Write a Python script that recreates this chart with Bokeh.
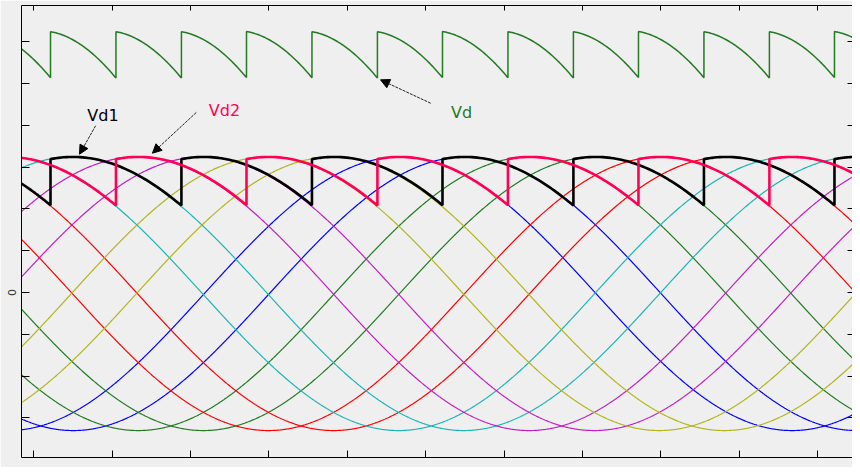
import numpy as np
from bokeh.plotting import figure
from bokeh.models import Range1d, LinearAxis, FixedTicker, Label, Arrow, NormalHead
from bokeh.embed import file_html
from bokeh.resources import INLINE

# ---- data (time in ms, voltage in tick units) ----
PERIOD_MS = 20.0
AMPLITUDE = 3.275
OFFSET = -0.03
# times of the minima of the 12 phase voltages
TROUGH_TIMES = [-0.65, 1.01, 2.67, 4.33, 5.99, 7.65, 9.31, 10.97, 12.64, 14.30, 15.96, 17.62]
PHASE_COLORS = ["#0000ff", "#0000ff", "#237a23", "#237a23", "#ff0000", "#ff0000",
                "#1fb4b4", "#1fb4b4", "#c020c0", "#c020c0", "#b4b41e", "#b4b41e"]
# firing instants of the two bridges
VD1_FIRING = [-2.90, 0.43, 3.77, 7.10, 10.43, 13.77, 17.10, 20.43, 23.77]
VD2_FIRING = [-1.24, 2.10, 5.43, 8.77, 12.10, 15.43, 18.77, 22.10]
FIRING_TO_PEAK = 0.57
X_TICKS = [0, 2, 4, 6, 8, 10, 12, 14, 16, 18, 20]
Y_TICKS = [-3, -2, -1, 0, 1, 2, 3, 4, 5, 6]
Y_TICK_LABELS = {t: ("0" if t == 0 else "") for t in Y_TICKS}
T_START, T_END = -0.5, 21.3

W = 2 * np.pi / PERIOD_MS

p = figure(width=852, height=467, output_backend="svg", toolbar_location=None,
           x_range=Range1d(-0.31, 20.89), y_range=Range1d(-3.95, 6.87),
           min_border_left=21, min_border_right=0, min_border_top=5, min_border_bottom=10,
           x_axis_location=None, y_axis_location=None)
p.background_fill_color = "#efefef"
p.border_fill_color = "#efefef"
p.outline_line_color = None
p.grid.visible = False

t = np.linspace(T_START, T_END, 1500)
for tr, col in zip(TROUGH_TIMES, PHASE_COLORS):
    p.line(t, OFFSET - AMPLITUDE * np.cos(W * (t - tr)), line_color=col, line_width=1.2)


def piecewise(firing_sets):
    breaks = sorted(set([f for fs in firing_sets for f in fs if T_START < f < T_END]
                        + [T_START, T_END]))
    xs, ys = [], []
    for a, b in zip(breaks[:-1], breaks[1:]):
        seg = np.linspace(a, b, 50)
        mid = np.full_like(seg, 0.5 * (a + b))
        v = np.zeros_like(seg)
        for fir in firing_sets:
            fa = np.array(fir)
            idx = np.searchsorted(fa, mid, side="right") - 1
            peak = fa[idx] + FIRING_TO_PEAK
            v = v + OFFSET + AMPLITUDE * np.cos(W * (seg - peak))
        xs.append(seg)
        ys.append(v)
    return np.concatenate(xs), np.concatenate(ys)


x1, y1 = piecewise([VD1_FIRING])
x2, y2 = piecewise([VD2_FIRING])
xd, yd = piecewise([VD1_FIRING, VD2_FIRING])

p.line(x1, y1, line_color="#000000", line_width=2.6)
p.line(x2, y2, line_color="#ff0055", line_width=2.6)
p.line(xd, yd, line_color="#237a23", line_width=1.5)

# axes with inward ticks
left = LinearAxis(ticker=FixedTicker(ticks=Y_TICKS), major_tick_in=8, major_tick_out=0,
                  minor_tick_line_color=None, major_label_overrides=Y_TICK_LABELS,
                  major_label_orientation="vertical", major_label_standoff=5,
                  major_label_text_font="DejaVu Sans", major_label_text_font_size="11px",
                  major_label_text_color="#333333", axis_line_color="black")
p.add_layout(left, "left")
hidden = dict(major_tick_out=0, minor_tick_line_color=None, major_label_text_font_size="1px",
              major_label_text_color=None, major_label_standoff=0)
bottom = LinearAxis(ticker=FixedTicker(ticks=X_TICKS), major_tick_in=7,
                    axis_line_color="black", **hidden)
p.add_layout(bottom, "below")
top = LinearAxis(ticker=FixedTicker(ticks=X_TICKS), major_tick_in=5,
                 axis_line_color="black", **hidden)
p.add_layout(top, "above")
right = LinearAxis(ticker=FixedTicker(ticks=Y_TICKS), major_tick_in=5,
                   axis_line_color=None, **hidden)
p.add_layout(right, "right")

# annotations
for txt, x, y, col in [("Vd1", 1.37, 4.24, "#000000"), ("Vd2", 4.47, 4.35, "#ff0055"),
                       ("Vd", 10.65, 4.31, "#237a23")]:
    p.add_layout(Label(x=x, y=y, text=txt, text_color=col, text_font="DejaVu Sans",
                       text_font_size="16px", text_baseline="alphabetic"))

for xs_, ys_, xe, ye in [(1.58, 3.99, 1.17, 3.31), (4.15, 4.31, 3.03, 3.335),
                         (10.13, 4.53, 8.85, 5.09)]:
    p.add_layout(Arrow(end=NormalHead(size=9, fill_color="black", line_color="black"),
                       x_start=xs_, y_start=ys_, x_end=xe, y_end=ye,
                       line_color="#222222", line_width=1, line_dash="3 1"))

open("out.html", "w").write(file_html(p, INLINE))
